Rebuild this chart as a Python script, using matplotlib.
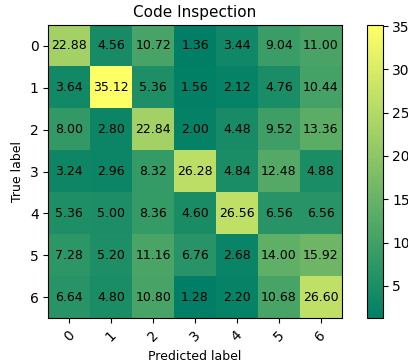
import numpy as np
import matplotlib
matplotlib.use('Agg')
import matplotlib.pyplot as plt

# class labels
classes = ['0', '1', '2', '3', '4', '5', '6']

# confusion matrix values (percent), row = true label
row0 = [22.88, 4.56, 10.72, 1.36, 3.44, 9.04, 11.00]
row1 = [3.64, 35.12, 5.36, 1.56, 2.12, 4.76, 10.44]
row2 = [8.00, 2.80, 22.84, 2.00, 4.48, 9.52, 13.36]
row3 = [3.24, 2.96, 8.32, 26.28, 4.84, 12.48, 4.88]
row4 = [5.36, 5.00, 8.36, 4.60, 26.56, 6.56, 6.56]
row5 = [7.28, 5.20, 11.16, 6.76, 2.68, 14.00, 15.92]
row6 = [6.64, 4.80, 10.80, 1.28, 2.20, 10.68, 26.60]

cm = np.array([row0, row1, row2, row3, row4, row5, row6])

fig = plt.figure(figsize=(4.08, 3.62), dpi=100)
ax = fig.add_axes([0.118, 0.121, 0.72, 0.81])
cax = fig.add_axes([0.9, 0.121, 0.038, 0.81])

im = ax.imshow(cm, interpolation='nearest', cmap='summer')
ax.set_title('Code Inspection', fontsize=11)
cb = fig.colorbar(im, cax=cax)
cb.set_ticks([5, 10, 15, 20, 25, 30, 35])
cb.outline.set_linewidth(0.8)

ticks = np.arange(len(classes))
ax.set_xticks(ticks)
ax.set_xticklabels(classes, rotation=45)
ax.set_yticks(ticks)
ax.set_yticklabels(classes)

# write the values in the cells
for i in range(cm.shape[0]):
    for j in range(cm.shape[1]):
        ax.text(j, i, '%.2f' % cm[i, j], ha='center', va='center',
                color='black', fontsize=9)

ax.set_ylabel('True label', fontsize=9)
ax.set_xlabel('Predicted label', fontsize=9)

fig.savefig('out.png', dpi=100)
